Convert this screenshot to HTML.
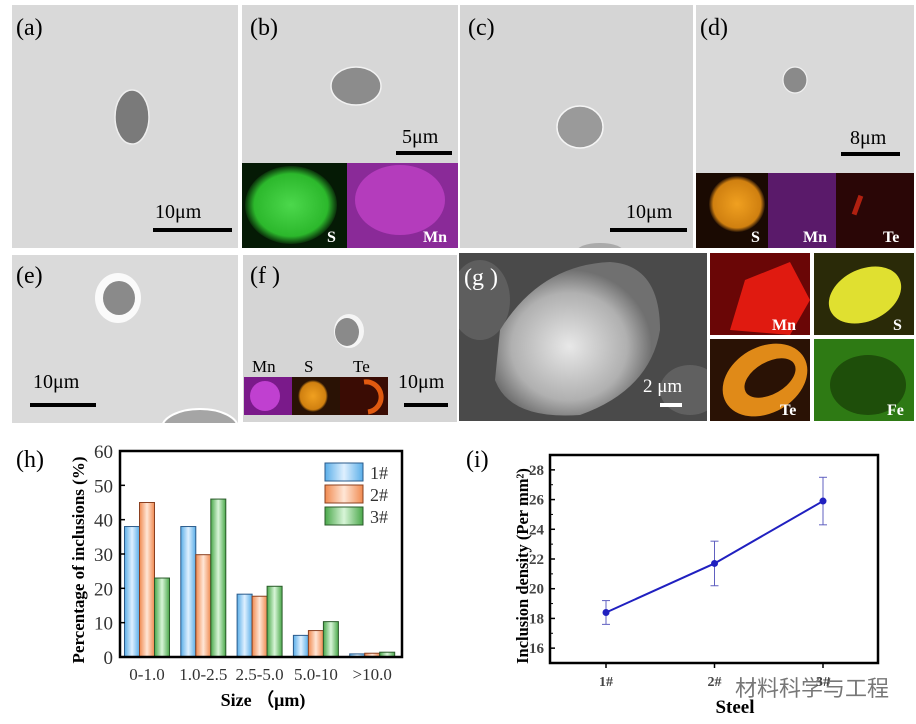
<!DOCTYPE html>
<html><head><meta charset="utf-8"><style>
body{margin:0;background:#fff;}
svg{display:block;font-family:"Liberation Serif",serif;}
</style></head><body>
<svg id="fig" width="916" height="724" viewBox="0 0 916 724" xmlns="http://www.w3.org/2000/svg">
<defs>
<radialGradient id="gS" cx="0.5" cy="0.5" r="0.5"><stop offset="0" stop-color="#4cd84c"/><stop offset="0.8" stop-color="#2cb82c"/><stop offset="1" stop-color="#0a300a"/></radialGradient>
<radialGradient id="gO" cx="0.5" cy="0.5" r="0.5"><stop offset="0" stop-color="#f0a020"/><stop offset="0.85" stop-color="#d08010"/><stop offset="1" stop-color="#2a1505"/></radialGradient>
<linearGradient id="b1" x1="0" x2="1"><stop offset="0" stop-color="#5aaee8"/><stop offset="0.5" stop-color="#dff0ff"/><stop offset="1" stop-color="#5aaee8"/></linearGradient>
<linearGradient id="b2" x1="0" x2="1"><stop offset="0" stop-color="#f08a50"/><stop offset="0.5" stop-color="#ffe6d6"/><stop offset="1" stop-color="#f08a50"/></linearGradient>
<linearGradient id="b3" x1="0" x2="1"><stop offset="0" stop-color="#4aa84a"/><stop offset="0.5" stop-color="#d8f5d8"/><stop offset="1" stop-color="#4aa84a"/></linearGradient>
<radialGradient id="sem" cx="0.45" cy="0.55" r="0.5"><stop offset="0" stop-color="#e8e8e8"/><stop offset="0.7" stop-color="#b0b0b0"/><stop offset="1" stop-color="#707070"/></radialGradient>
<clipPath id="cc"><rect x="460" y="5" width="233" height="243"/></clipPath>
<clipPath id="ce"><rect x="12" y="255" width="226" height="168"/></clipPath>
<clipPath id="cg"><rect x="459" y="253" width="248" height="168"/></clipPath>
<clipPath id="cg1"><rect x="710" y="253" width="100" height="82"/></clipPath>
<clipPath id="cg2"><rect x="814" y="253" width="100" height="82"/></clipPath>
<clipPath id="cg3"><rect x="710" y="339" width="100" height="82"/></clipPath>
<clipPath id="cg4"><rect x="814" y="339" width="100" height="82"/></clipPath>
</defs>

<g>
<rect x="12" y="5" width="226" height="243" fill="#d9d9d9"/>
<ellipse cx="132" cy="117" rx="17" ry="27" fill="#7a7a7a" stroke="#eee" stroke-width="1.5"/>
<text x="16" y="35" font-size="24">(a)</text>
<text x="155" y="218" font-size="20">10μm</text>
<rect x="153" y="228" width="79" height="4" fill="#000"/>
</g>
<g>
<rect x="242" y="5" width="216" height="158" fill="#d7d7d7"/>
<ellipse cx="356" cy="86" rx="25" ry="19" fill="#8c8c8c" stroke="#f2f2f2" stroke-width="1.5"/>
<text x="250" y="35" font-size="24">(b)</text>
<text x="402" y="143" font-size="20">5μm</text>
<rect x="396" y="151" width="56" height="4" fill="#000"/>
<rect x="242" y="163" width="105" height="85" fill="#051a05"/>
<ellipse cx="291" cy="205" rx="46" ry="39" fill="url(#gS)"/>
<rect x="347" y="163" width="111" height="85" fill="#8a2a98"/>
<ellipse cx="400" cy="200" rx="45" ry="35" fill="#b43cbc"/>
<text x="327" y="242" font-size="16" font-weight="bold" fill="#fff">S</text>
<text x="423" y="242" font-size="16" font-weight="bold" fill="#fff">Mn</text>
</g>
<g>
<rect x="460" y="5" width="233" height="243" fill="#d5d5d5"/>
<ellipse cx="580" cy="127" rx="23" ry="21" fill="#9a9a9a" stroke="#f5f5f5" stroke-width="1.5"/>
<ellipse cx="600" cy="252" rx="24" ry="9" fill="#aaa" clip-path="url(#cc)"/>
<text x="468" y="35" font-size="24">(c)</text>
<text x="626" y="218" font-size="20">10μm</text>
<rect x="610" y="228" width="77" height="4" fill="#000"/>
</g>
<g>
<rect x="696" y="5" width="218" height="168" fill="#d9d9d9"/>
<ellipse cx="795" cy="80" rx="12" ry="13" fill="#8a8a8a" stroke="#f0f0f0" stroke-width="1.2"/>
<text x="700" y="35" font-size="24">(d)</text>
<text x="850" y="144" font-size="20">8μm</text>
<rect x="841" y="152" width="59" height="4" fill="#000"/>
<rect x="696" y="173" width="72" height="75" fill="#1a0a02"/>
<ellipse cx="737" cy="204" rx="28" ry="28" fill="url(#gO)"/>
<rect x="768" y="173" width="68" height="75" fill="#5a1a6a"/>
<rect x="836" y="173" width="78" height="75" fill="#2a0606"/>
<rect x="855" y="195" width="5" height="20" fill="#b02010" transform="rotate(20 857 205)"/>
<text x="751" y="242" font-size="16" font-weight="bold" fill="#fff">S</text>
<text x="803" y="242" font-size="16" font-weight="bold" fill="#fff">Mn</text>
<text x="883" y="242" font-size="16" font-weight="bold" fill="#fff">Te</text>
</g>
<g>
<rect x="12" y="255" width="226" height="168" fill="#dadada"/>
<ellipse cx="118" cy="298" rx="23" ry="25" fill="#fafafa"/>
<ellipse cx="119" cy="298" rx="16" ry="17" fill="#8a8a8a"/>
<ellipse cx="200" cy="428" rx="38" ry="19" fill="#a5a5a5" stroke="#fff" stroke-width="2" clip-path="url(#ce)"/>
<text x="16" y="283" font-size="24">(e)</text>
<text x="33" y="388" font-size="20">10μm</text>
<rect x="30" y="403" width="66" height="4" fill="#000"/>
</g>
<g>
<rect x="243" y="255" width="214" height="167" fill="#d5d5d5"/>
<ellipse cx="349" cy="331" rx="15" ry="17" fill="#f5f5f5"/>
<ellipse cx="347" cy="332" rx="12" ry="14" fill="#8a8a8a"/>
<text x="250" y="283" font-size="24">(f )</text>
<text x="252" y="372" font-size="17">Mn</text>
<text x="304" y="372" font-size="17">S</text>
<text x="353" y="372" font-size="17">Te</text>
<rect x="244" y="377" width="48" height="38" fill="#7a1a8a"/>
<circle cx="265" cy="396" r="15" fill="#c040d0"/>
<rect x="292" y="377" width="48" height="38" fill="#2a1205"/>
<ellipse cx="313" cy="396" rx="15" ry="16" fill="url(#gO)"/>
<rect x="340" y="377" width="48" height="38" fill="#3a0c04"/>
<path d="M364 382 A15 15 0 0 1 368 412" stroke="#e05a10" stroke-width="5" fill="none"/>
<text x="398" y="388" font-size="20">10μm</text>
<rect x="404" y="403" width="44" height="4" fill="#000"/>
</g>
<g>
<rect x="459" y="253" width="248" height="168" fill="#4a4a4a"/>
<g clip-path="url(#cg)">
<ellipse cx="480" cy="300" rx="30" ry="40" fill="#5e5e5e"/>
<ellipse cx="690" cy="390" rx="30" ry="25" fill="#606060"/>
<path d="M500 330 Q540 265 610 262 Q660 265 660 330 Q650 390 580 415 Q510 420 495 380 Z" fill="url(#sem)"/>
</g>
<text x="464" y="285" font-size="24" fill="#fff">(g )</text>
<text x="643" y="392" font-size="19" fill="#fff">2 μm</text>
<rect x="660" y="403" width="22" height="4" fill="#fff"/>
<rect x="710" y="253" width="100" height="82" fill="#6a0606"/>
<path d="M730 330 L745 280 L790 262 L810 300 L790 335 Z" fill="#e01a10" clip-path="url(#cg1)"/>
<rect x="814" y="253" width="100" height="82" fill="#2a2a08"/>
<ellipse cx="865" cy="295" rx="38" ry="26" fill="#e0e030" transform="rotate(-25 865 295)" clip-path="url(#cg2)"/>
<rect x="710" y="339" width="100" height="82" fill="#2a1205"/>
<g clip-path="url(#cg3)">
<ellipse cx="765" cy="380" rx="45" ry="33" fill="#e08a18" transform="rotate(-30 765 380)"/>
<ellipse cx="770" cy="378" rx="28" ry="16" fill="#2a1205" transform="rotate(-30 770 378)"/>
</g>
<rect x="814" y="339" width="100" height="82" fill="#2e7a14"/>
<ellipse cx="868" cy="385" rx="38" ry="30" fill="#1e4e0a" clip-path="url(#cg4)"/>
<text x="772" y="330" font-size="16" font-weight="bold" fill="#fff">Mn</text>
<text x="893" y="330" font-size="16" font-weight="bold" fill="#fff">S</text>
<text x="780" y="415" font-size="16" font-weight="bold" fill="#fff">Te</text>
<text x="887" y="415" font-size="16" font-weight="bold" fill="#fff">Fe</text>
</g>

<g id="chartH">
<text x="16" y="467" font-size="24">(h)</text>
<text transform="translate(84 560) rotate(-90)" font-size="17" font-weight="bold" text-anchor="middle">Percentage of inclusions (%)</text>
<text x="263" y="706" font-size="18" font-weight="bold" text-anchor="middle">Size （μm)</text>
</g>
<g id="chartI">
<text x="466" y="467" font-size="24">(i)</text>
<text transform="translate(528 566) rotate(-90)" font-size="16.5" font-weight="bold" text-anchor="middle">Inclusion density (Per mm²)</text>
<text x="735" y="713" font-size="19" font-weight="bold" text-anchor="middle">Steel</text>
<text x="735" y="696" font-size="22" fill="#777" font-family="'Liberation Sans','Noto Sans CJK SC',sans-serif">材料科学与工程</text>
</g>
</svg>
<script>
const NS="http://www.w3.org/2000/svg";
const hCategories=["0-1.0","1.0-2.5","2.5-5.0","5.0-10",">10.0"];
const hSeries1=[38,38,18.3,6.3,0.9];
const hSeries2=[45,29.8,17.7,7.7,1.1];
const hSeries3=[23,46,20.6,10.3,1.4];
const hSeriesNames=["1#","2#","3#"];
const hYTicks=[0,10,20,30,40,50,60];

const iCategories=["1#","2#","3#"];
const iValues=[18.4,21.7,25.9];
const iErrors=[0.8,1.5,1.6];
const iYTicks=[16,18,20,22,24,26,28];

function mk(parent,tag,attrs,text){const e=document.createElementNS(NS,tag);for(const k in attrs)e.setAttribute(k,attrs[k]);if(text!==undefined)e.textContent=text;parent.appendChild(e);return e;}

(function(){
const g=document.getElementById('chartH');
const L=120,R=402,T=451,B=657;
const y=v=>B-(v/60)*(B-T);
const x=i=>147+i*56.3;
const bw=15;
const series=[hSeries1,hSeries2,hSeries3];
const fills=["url(#b1)","url(#b2)","url(#b3)"];
const strokes=["#2a5a8a","#8a4020","#2a5a2a"];
series.forEach((s,si)=>{s.forEach((v,i)=>{
const r=mk(g,'rect',{x:x(i)+(si-1.5)*bw,y:y(v),width:bw,height:B-y(v),fill:fills[si],stroke:strokes[si],'stroke-width':1});


});});
mk(g,'rect',{x:L,y:T,width:R-L,height:B-T,fill:'none',stroke:'#000','stroke-width':2.5});
hYTicks.forEach(t=>{
mk(g,'line',{x1:L,x2:L+5,y1:y(t),y2:y(t),stroke:'#000','stroke-width':1.5});
const tx=mk(g,'text',{x:L-7,y:y(t)+7,'font-size':19,'text-anchor':'end',fill:'#333'},t);


});
hCategories.forEach((c,i)=>{
const tx=mk(g,'text',{x:x(i),y:680,'font-size':17,'text-anchor':'middle',fill:'#333'},c);


});
hSeriesNames.forEach((n,si)=>{
const yy=463+si*22;
const r=mk(g,'rect',{x:325,y:yy,width:38,height:18,fill:fills[si],stroke:strokes[si],'stroke-width':1});


const t=mk(g,'text',{x:370,y:yy+16,'font-size':18,fill:'#333'},n);


});
})();

(function(){
const g=document.getElementById('chartI');
const L=550,R=878,T=455,B=663;
const y=v=>B-((v-15)/14)*(B-T);
const x=i=>606+i*108.5;
mk(g,'rect',{x:L,y:T,width:R-L,height:B-T,fill:'none',stroke:'#000','stroke-width':2.5});
iYTicks.forEach(t=>{
mk(g,'line',{x1:L,x2:L+5,y1:y(t),y2:y(t),stroke:'#000','stroke-width':1.5});
mk(g,'line',{x1:L,x2:L+3,y1:y(t+1),y2:y(t+1),stroke:'#000','stroke-width':1});
const tx=mk(g,'text',{x:L-6,y:y(t)+5,'font-size':15,'font-weight':'bold','text-anchor':'end',fill:'#444'},t);


});
iCategories.forEach((c,i)=>{
mk(g,'line',{x1:x(i),x2:x(i),y1:B,y2:B+5,stroke:'#000','stroke-width':1.5});
const tx=mk(g,'text',{x:x(i),y:B+23,'font-size':14,'font-weight':'bold','text-anchor':'middle',fill:'#444'},c);


});
const pts=iValues.map((v,i)=>x(i)+','+y(v)).join(' ');
const pl=mk(g,'polyline',{points:pts,fill:'none',stroke:'#2020c0','stroke-width':2});


iValues.forEach((v,i)=>{
const e=iErrors[i];
mk(g,'line',{x1:x(i),x2:x(i),y1:y(v-e),y2:y(v+e),stroke:'#6060c0','stroke-width':1});
mk(g,'line',{x1:x(i)-4,x2:x(i)+4,y1:y(v-e),y2:y(v-e),stroke:'#6060c0','stroke-width':1});
mk(g,'line',{x1:x(i)-4,x2:x(i)+4,y1:y(v+e),y2:y(v+e),stroke:'#6060c0','stroke-width':1});
const c=mk(g,'circle',{cx:x(i),cy:y(v),r:3.5,fill:'#2020c0'});


});
})();
</script>
</body></html>
